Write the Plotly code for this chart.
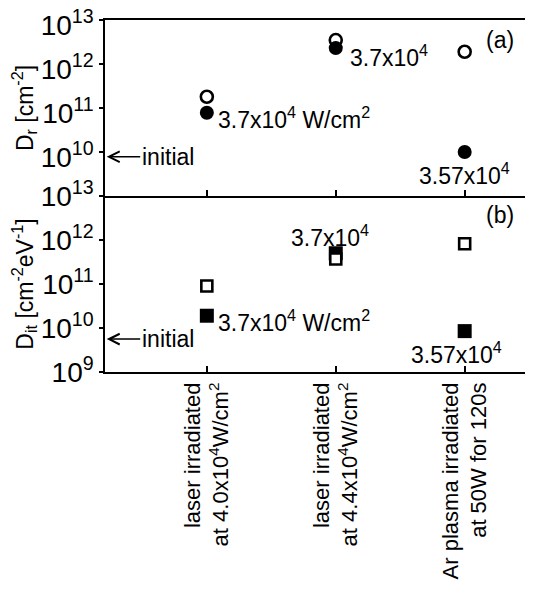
import numpy as np
import plotly.graph_objects as go
from plotly.subplots import make_subplots

# ---- data ----
categories = [
    "laser irradiated<br>at 4.0x10<sup>4</sup>W/cm<sup>2</sup>",
    "laser irradiated<br>at 4.4x10<sup>4</sup>W/cm<sup>2</sup>",
    "Ar plasma irradiated<br>at 50W for 120s",
]
cat_x = [1, 2, 3]
dr_open = [1.8e11, 3.5e12, 1.9e12]
dr_filled = [7.8e10, 2.3e12, 1.0e10]
dit_open = [9.0e10, 3.7e11, 8.2e11]
dit_filled = [1.9e10, 5.0e11, 8.5e9]
dr_initial = 7.8e9
dit_initial = 5.6e9
ytick_vals = [1e9, 1e10, 1e11, 1e12, 1e13]
ytick_text_a = ["", "10<sup>10</sup>", "10<sup>11</sup>", "10<sup>12</sup>", "10<sup>13</sup>"]
ytick_text_b = ["10<sup>9</sup>", "10<sup>10</sup>", "10<sup>11</sup>", "10<sup>12</sup>", "10<sup>13</sup>"]

FONT = "Liberation Sans, Arial, sans-serif"
FS = 23

fig = make_subplots(rows=2, cols=1, shared_xaxes=True, vertical_spacing=0)

# panel (a)
fig.add_trace(go.Scatter(x=cat_x, y=dr_open, mode="markers",
                         marker=dict(symbol="circle-open", size=12, color="black", line=dict(width=2.6)),
                         showlegend=False), row=1, col=1)
fig.add_trace(go.Scatter(x=cat_x, y=dr_filled, mode="markers",
                         marker=dict(symbol="circle", size=14, color="black", line=dict(width=0)),
                         showlegend=False), row=1, col=1)
# panel (b)
fig.add_trace(go.Scatter(x=cat_x, y=dit_filled, mode="markers",
                         marker=dict(symbol="square", size=14, color="black", line=dict(width=0)),
                         showlegend=False), row=2, col=1)
fig.add_trace(go.Scatter(x=cat_x, y=dit_open, mode="markers",
                         marker=dict(symbol="square", size=11, color="white", line=dict(width=2.6, color="black")),
                         showlegend=False), row=2, col=1)

xr = [0.21, 3.53]
common_x = dict(range=xr, showline=True, linecolor="black", linewidth=1.5, showgrid=False,
                zeroline=False, ticks="inside", ticklen=6, tickwidth=1.5, tickcolor="black",
                tickvals=cat_x, automargin=False, ticklabeloverflow="allow")
fig.update_xaxes(**common_x, mirror=True, showticklabels=False, row=1, col=1)
fig.update_xaxes(**common_x, ticktext=categories, showticklabels=True, tickangle=-90,
                 tickfont=dict(family=FONT, size=22, color="black"), row=2, col=1)

common_y = dict(type="log", range=[9, 13], showline=True, linecolor="black", linewidth=1.5,
                showgrid=False, zeroline=False, ticks="outside", ticklen=4, tickwidth=1.5,
                tickcolor="black", tickvals=ytick_vals, automargin=False,
                ticklabeloverflow="allow",
                tickfont=dict(family=FONT, size=28, color="black"))
fig.update_yaxes(**common_y, ticktext=ytick_text_a, ticklabelshift=5,
                 title=dict(text="D<sub>r</sub> [cm<sup>-2</sup>]", font=dict(family=FONT, size=FS, color="black"), standoff=4),
                 row=1, col=1)
fig.update_yaxes(**common_y, ticktext=ytick_text_b,
                 title=dict(text="D<sub>it</sub> [cm<sup>-2</sup>eV<sup>-1</sup>]", font=dict(family=FONT, size=FS, color="black"), standoff=4),
                 row=2, col=1)

tf = dict(family=FONT, size=FS, color="black")
L = np.log10
ann = [
    dict(xref="x", yref="y", x=cat_x[0], y=L(dr_filled[0]), text="3.7x10<sup>4</sup> W/cm<sup>2</sup>",
         xanchor="left", yanchor="middle", xshift=9, yshift=-5),
    dict(xref="x", yref="y", x=cat_x[1], y=L(dr_filled[1]), text="3.7x10<sup>4</sup>",
         xanchor="left", yanchor="middle", xshift=12, yshift=-8),
    dict(xref="x", yref="y", x=cat_x[2], y=L(dr_filled[2]), text="3.57x10<sup>4</sup>",
         xanchor="center", yanchor="middle", xshift=0, yshift=-22),
    dict(xref="x2", yref="y2", x=cat_x[1], y=L(dit_filled[1]), text="3.7x10<sup>4</sup>",
         xanchor="center", yanchor="middle", xshift=-6, yshift=17),
    dict(xref="x2", yref="y2", x=cat_x[0], y=L(dit_filled[0]), text="3.7x10<sup>4</sup> W/cm<sup>2</sup>",
         xanchor="left", yanchor="middle", xshift=9, yshift=-5),
    dict(xref="x2", yref="y2", x=cat_x[2], y=L(dit_filled[2]), text="3.57x10<sup>4</sup>",
         xanchor="center", yanchor="middle", xshift=-8, yshift=-22),
    dict(xref="paper", yref="paper", x=0.923, y=0.943, text="(a)", xanchor="center", yanchor="middle"),
    dict(xref="paper", yref="paper", x=0.923, y=0.446, text="(b)", xanchor="center", yanchor="middle"),
]
for a in ann:
    a.update(showarrow=False, font=tf)
    fig.add_annotation(**a)

for yref, val in (("y", dr_initial), ("y2", dit_initial)):
    fig.add_annotation(xref="paper", yref=yref, x=0.004, y=L(val), text="initial",
                       showarrow=True, ax=61, ay=0, axref="pixel", ayref="pixel",
                       arrowhead=5, arrowsize=1.4, arrowwidth=1.5, arrowcolor="black",
                       font=tf)

# page body adds an 8px offset; size the figure so the plot area lands where the reference has it
fig.update_layout(width=525, height=588, margin=dict(l=97, r=0, t=12, b=224),
                  plot_bgcolor="white", paper_bgcolor="white",
                  font=dict(family=FONT, color="black"), showlegend=False)

fig.write_html("out.html")
